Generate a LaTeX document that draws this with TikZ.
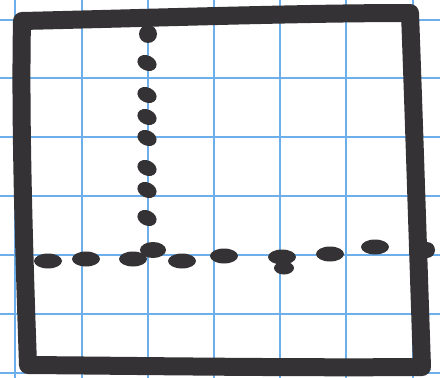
\documentclass[tikz,border=0pt]{standalone}
\begin{document}
\begin{tikzpicture}[x=1pt,y=-1pt,
  gridline/.style={draw=gridblue,line width=1.4pt},
  marker/.style={draw=ink,line width=18pt,line cap=round,line join=round},
  dot/.style={fill=ink}]
\definecolor{gridblue}{RGB}{110,175,235}
\definecolor{ink}{RGB}{52,50,52}
\useasboundingbox (0,0) rectangle (440,378);
\fill[white] (0,0) rectangle (440,378);
% grid
\foreach \x in {15,82,148,214,280,346,413} \draw[gridline] (\x,0) -- (\x,378);
\foreach \y in {20,78,137,196,255,314,373} \draw[gridline] (0,\y) -- (440,\y);
% square
\draw[marker] (22,21) .. controls (150,18) and (300,13) .. (410,13)
  .. controls (414,120) and (418,250) .. (422,367)
  .. controls (300,368) and (150,366) .. (28,365)
  .. controls (24,250) and (20,120) .. cycle;
% vertical dotted line
\fill[dot] (148,34) ellipse (9 and 9);
\foreach \y in {63,95,117,138,168,190,218}
  \fill[dot,rotate around={-25:(147,\y)}] (147,\y) ellipse (10 and 7.5);
\fill[dot] (153,250) ellipse (13 and 8);
% horizontal dotted line
\foreach \x/\y in {48/261,86/259,133/259,182/261,224/256,282/257,330/254,375/247}
  \fill[dot] (\x,\y) ellipse (14 and 7.5);
\fill[dot] (284,268) ellipse (10 and 6.5);
\fill[dot] (427,250) ellipse (8 and 8);
\end{tikzpicture}
\end{document}
